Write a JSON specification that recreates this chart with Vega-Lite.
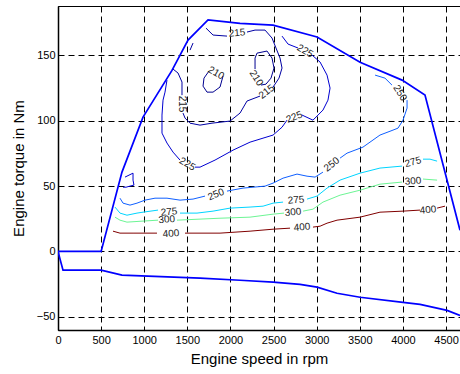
{
  "$schema": "https://vega.github.io/schema/vega-lite/v6.json",
  "autosize": {"type": "none"},
  "width": 402,
  "height": 324,
  "padding": {"left": 58, "top": 6, "right": 0, "bottom": 44},
  "background": "white",
  "config": {
    "view": {"stroke": "black", "strokeWidth": 1},
    "axis": {
      "domainColor": "black", "domainWidth": 1.5,
      "grid": true, "gridColor": "black", "gridDash": [6, 4], "gridWidth": 1, "gridOpacity": 1,
      "ticks": false,
      "labelFont": "Liberation Sans", "labelFontSize": 11, "labelColor": "black",
      "titleFont": "Liberation Sans", "titleFontSize": 15, "titleFontWeight": "normal", "titleColor": "black",
      "labelFlush": false, "labelOverlap": false
    },
    "text": {"font": "Liberation Sans", "fontSize": 10, "fill": "#222222", "baseline": "middle", "align": "center"}
  },
  "datasets": {
    "limits": [
      {"s": "max", "i": 0, "x": 0, "y": 0},
      {"s": "max", "i": 1, "x": 500, "y": 0},
      {"s": "max", "i": 2, "x": 742, "y": 60.6},
      {"s": "max", "i": 3, "x": 986, "y": 102.6},
      {"s": "max", "i": 4, "x": 1322, "y": 138.3},
      {"s": "max", "i": 5, "x": 1508, "y": 161.5},
      {"s": "max", "i": 6, "x": 1740, "y": 176.8},
      {"s": "max", "i": 7, "x": 2111, "y": 174.3},
      {"s": "max", "i": 8, "x": 2494, "y": 172.9},
      {"s": "max", "i": 9, "x": 3004, "y": 163.8},
      {"s": "max", "i": 10, "x": 3503, "y": 144.6},
      {"s": "max", "i": 11, "x": 3990, "y": 130.9},
      {"s": "max", "i": 12, "x": 4256, "y": 119.4},
      {"s": "max", "i": 13, "x": 4662, "y": 16.2},
      {"s": "min", "i": 0, "x": 0, "y": 0},
      {"s": "min", "i": 1, "x": 58, "y": -14.3},
      {"s": "min", "i": 2, "x": 500, "y": -14.3},
      {"s": "min", "i": 3, "x": 742, "y": -18.1},
      {"s": "min", "i": 4, "x": 1647, "y": -20.4},
      {"s": "min", "i": 5, "x": 2111, "y": -22},
      {"s": "min", "i": 6, "x": 2494, "y": -23.5},
      {"s": "min", "i": 7, "x": 2807, "y": -25.1},
      {"s": "min", "i": 8, "x": 3004, "y": -27.3},
      {"s": "min", "i": 9, "x": 3236, "y": -31.9},
      {"s": "min", "i": 10, "x": 3503, "y": -35},
      {"s": "min", "i": 11, "x": 4001, "y": -38.9},
      {"s": "min", "i": 12, "x": 4199, "y": -40.4},
      {"s": "min", "i": 13, "x": 4512, "y": -45},
      {"s": "min", "i": 14, "x": 4662, "y": -48.9}
    ],
    "contours": [
      {"s": "215a", "lv": "215", "i": 0, "x": 1334, "y": 139.3},
      {"s": "215a", "lv": "215", "i": 1, "x": 1392, "y": 136.3},
      {"s": "215a", "lv": "215", "i": 2, "x": 1438, "y": 129.4},
      {"s": "215a", "lv": "215", "i": 3, "x": 1438, "y": 119.4},
      {"s": "215b", "lv": "215", "i": 0, "x": 1450, "y": 105.7},
      {"s": "215b", "lv": "215", "i": 1, "x": 1473, "y": 101.9},
      {"s": "215b", "lv": "215", "i": 2, "x": 1531, "y": 98.0},
      {"s": "215b", "lv": "215", "i": 3, "x": 1647, "y": 96.5},
      {"s": "215b", "lv": "215", "i": 4, "x": 1786, "y": 98.0},
      {"s": "215b", "lv": "215", "i": 5, "x": 1995, "y": 99.6},
      {"s": "215b", "lv": "215", "i": 6, "x": 2111, "y": 105.7},
      {"s": "215b", "lv": "215", "i": 7, "x": 2192, "y": 114.9},
      {"s": "215b", "lv": "215", "i": 8, "x": 2343, "y": 118.7},
      {"s": "215c", "lv": "215", "i": 0, "x": 2494, "y": 125.6},
      {"s": "215c", "lv": "215", "i": 1, "x": 2563, "y": 132.4},
      {"s": "215c", "lv": "215", "i": 2, "x": 2598, "y": 140.1},
      {"s": "215c", "lv": "215", "i": 3, "x": 2575, "y": 147.7},
      {"s": "215c", "lv": "215", "i": 4, "x": 2528, "y": 155.4},
      {"s": "215c", "lv": "215", "i": 5, "x": 2482, "y": 163.0},
      {"s": "215c", "lv": "215", "i": 6, "x": 2401, "y": 169.1},
      {"s": "215c", "lv": "215", "i": 7, "x": 2285, "y": 169.1},
      {"s": "215c", "lv": "215", "i": 8, "x": 2192, "y": 167.6},
      {"s": "215d", "lv": "215", "i": 0, "x": 1960, "y": 164.5},
      {"s": "215d", "lv": "215", "i": 1, "x": 1798, "y": 165.3},
      {"s": "215d", "lv": "215", "i": 2, "x": 1716, "y": 170.6},
      {"s": "215e", "lv": "215", "i": 0, "x": 1531, "y": 153.8},
      {"s": "215e", "lv": "215", "i": 1, "x": 1566, "y": 159.2},
      {"s": "210a", "lv": "210", "i": 0, "x": 1914, "y": 134.0},
      {"s": "210a", "lv": "210", "i": 1, "x": 1879, "y": 125.6},
      {"s": "210a", "lv": "210", "i": 2, "x": 1798, "y": 121.7},
      {"s": "210a", "lv": "210", "i": 3, "x": 1728, "y": 121.7},
      {"s": "210a", "lv": "210", "i": 4, "x": 1682, "y": 126.3},
      {"s": "210a", "lv": "210", "i": 5, "x": 1693, "y": 132.4},
      {"s": "210a", "lv": "210", "i": 6, "x": 1751, "y": 137.8},
      {"s": "210b", "lv": "210", "i": 0, "x": 2354, "y": 127.1},
      {"s": "210b", "lv": "210", "i": 1, "x": 2412, "y": 127.8},
      {"s": "210b", "lv": "210", "i": 2, "x": 2470, "y": 132.4},
      {"s": "210b", "lv": "210", "i": 3, "x": 2505, "y": 140.1},
      {"s": "210b", "lv": "210", "i": 4, "x": 2482, "y": 147.7},
      {"s": "210b", "lv": "210", "i": 5, "x": 2424, "y": 153.1},
      {"s": "210b", "lv": "210", "i": 6, "x": 2308, "y": 151.5},
      {"s": "210b", "lv": "210", "i": 7, "x": 2285, "y": 147.7},
      {"s": "210b", "lv": "210", "i": 8, "x": 2285, "y": 139.3},
      {"s": "225a", "lv": "225", "i": 0, "x": 1264, "y": 130.9},
      {"s": "225a", "lv": "225", "i": 1, "x": 1241, "y": 121.7},
      {"s": "225a", "lv": "225", "i": 2, "x": 1218, "y": 115.6},
      {"s": "225a", "lv": "225", "i": 3, "x": 1206, "y": 104.2},
      {"s": "225a", "lv": "225", "i": 4, "x": 1206, "y": 90.4},
      {"s": "225a", "lv": "225", "i": 5, "x": 1264, "y": 82.8},
      {"s": "225a", "lv": "225", "i": 6, "x": 1334, "y": 75.9},
      {"s": "225a", "lv": "225", "i": 7, "x": 1415, "y": 69.8},
      {"s": "225b", "lv": "225", "i": 0, "x": 1589, "y": 64.4},
      {"s": "225b", "lv": "225", "i": 1, "x": 1647, "y": 64.4},
      {"s": "225b", "lv": "225", "i": 2, "x": 1821, "y": 69.8},
      {"s": "225b", "lv": "225", "i": 3, "x": 2030, "y": 77.4},
      {"s": "225b", "lv": "225", "i": 4, "x": 2227, "y": 83.5},
      {"s": "225b", "lv": "225", "i": 5, "x": 2494, "y": 88.9},
      {"s": "225b", "lv": "225", "i": 6, "x": 2598, "y": 94.9},
      {"s": "225b", "lv": "225", "i": 7, "x": 2656, "y": 100.3},
      {"s": "225c", "lv": "225", "i": 0, "x": 2830, "y": 104.2},
      {"s": "225c", "lv": "225", "i": 1, "x": 2957, "y": 100.3},
      {"s": "225c", "lv": "225", "i": 2, "x": 3073, "y": 108.0},
      {"s": "225c", "lv": "225", "i": 3, "x": 3131, "y": 115.6},
      {"s": "225c", "lv": "225", "i": 4, "x": 3155, "y": 124.8},
      {"s": "225c", "lv": "225", "i": 5, "x": 3120, "y": 134.7},
      {"s": "225c", "lv": "225", "i": 6, "x": 3039, "y": 144.7},
      {"s": "225c", "lv": "225", "i": 7, "x": 2946, "y": 150.0},
      {"s": "225d", "lv": "225", "i": 0, "x": 2784, "y": 155.4},
      {"s": "225d", "lv": "225", "i": 1, "x": 2668, "y": 158.4},
      {"s": "225d", "lv": "225", "i": 2, "x": 2598, "y": 164.5},
      {"s": "225e", "lv": "225", "i": 0, "x": 777, "y": 56.8},
      {"s": "225e", "lv": "225", "i": 1, "x": 870, "y": 59.8},
      {"s": "225e", "lv": "225", "i": 2, "x": 870, "y": 54.5},
      {"s": "225e", "lv": "225", "i": 3, "x": 881, "y": 50.7},
      {"s": "225e", "lv": "225", "i": 4, "x": 789, "y": 49.1},
      {"s": "225e", "lv": "225", "i": 5, "x": 754, "y": 49.1},
      {"s": "250a", "lv": "250", "i": 0, "x": 719, "y": 40.7},
      {"s": "250a", "lv": "250", "i": 1, "x": 754, "y": 36.9},
      {"s": "250a", "lv": "250", "i": 2, "x": 835, "y": 35.4},
      {"s": "250a", "lv": "250", "i": 3, "x": 916, "y": 36.9},
      {"s": "250a", "lv": "250", "i": 4, "x": 1009, "y": 39.2},
      {"s": "250a", "lv": "250", "i": 5, "x": 1125, "y": 40.7},
      {"s": "250a", "lv": "250", "i": 6, "x": 1264, "y": 40.7},
      {"s": "250a", "lv": "250", "i": 7, "x": 1415, "y": 39.2},
      {"s": "250a", "lv": "250", "i": 8, "x": 1566, "y": 40.0},
      {"s": "250a", "lv": "250", "i": 9, "x": 1705, "y": 42.3},
      {"s": "250b", "lv": "250", "i": 0, "x": 1960, "y": 46.1},
      {"s": "250b", "lv": "250", "i": 1, "x": 2146, "y": 48.4},
      {"s": "250b", "lv": "250", "i": 2, "x": 2401, "y": 49.9},
      {"s": "250b", "lv": "250", "i": 3, "x": 2494, "y": 52.2},
      {"s": "250b", "lv": "250", "i": 4, "x": 2610, "y": 56.0},
      {"s": "250b", "lv": "250", "i": 5, "x": 2772, "y": 59.1},
      {"s": "250b", "lv": "250", "i": 6, "x": 2888, "y": 57.5},
      {"s": "250b", "lv": "250", "i": 7, "x": 2981, "y": 56.8},
      {"s": "250b", "lv": "250", "i": 8, "x": 3073, "y": 60.6},
      {"s": "250c", "lv": "250", "i": 0, "x": 3271, "y": 71.3},
      {"s": "250c", "lv": "250", "i": 1, "x": 3352, "y": 75.1},
      {"s": "250c", "lv": "250", "i": 2, "x": 3537, "y": 79.7},
      {"s": "250c", "lv": "250", "i": 3, "x": 3734, "y": 88.9},
      {"s": "250c", "lv": "250", "i": 4, "x": 3885, "y": 92.7},
      {"s": "250c", "lv": "250", "i": 5, "x": 3943, "y": 94.2},
      {"s": "250c", "lv": "250", "i": 6, "x": 4001, "y": 100.3},
      {"s": "250c", "lv": "250", "i": 7, "x": 4048, "y": 109.5},
      {"s": "250c", "lv": "250", "i": 8, "x": 4048, "y": 115.6},
      {"s": "250d", "lv": "250", "i": 0, "x": 3873, "y": 127.1},
      {"s": "250d", "lv": "250", "i": 1, "x": 3792, "y": 132.4},
      {"s": "250d", "lv": "250", "i": 2, "x": 3677, "y": 134.7},
      {"s": "275a", "lv": "275", "i": 0, "x": 661, "y": 33.9},
      {"s": "275a", "lv": "275", "i": 1, "x": 719, "y": 29.3},
      {"s": "275a", "lv": "275", "i": 2, "x": 800, "y": 27.7},
      {"s": "275a", "lv": "275", "i": 3, "x": 916, "y": 29.3},
      {"s": "275a", "lv": "275", "i": 4, "x": 986, "y": 30.0},
      {"s": "275a", "lv": "275", "i": 5, "x": 1160, "y": 31.6},
      {"s": "275b", "lv": "275", "i": 0, "x": 1415, "y": 29.3},
      {"s": "275b", "lv": "275", "i": 1, "x": 1612, "y": 29.3},
      {"s": "275b", "lv": "275", "i": 2, "x": 1798, "y": 30.8},
      {"s": "275b", "lv": "275", "i": 3, "x": 1995, "y": 33.1},
      {"s": "275b", "lv": "275", "i": 4, "x": 2227, "y": 33.9},
      {"s": "275b", "lv": "275", "i": 5, "x": 2378, "y": 34.6},
      {"s": "275b", "lv": "275", "i": 6, "x": 2494, "y": 36.9},
      {"s": "275b", "lv": "275", "i": 7, "x": 2610, "y": 37.7},
      {"s": "275c", "lv": "275", "i": 0, "x": 2888, "y": 40.0},
      {"s": "275c", "lv": "275", "i": 1, "x": 3004, "y": 42.3},
      {"s": "275c", "lv": "275", "i": 2, "x": 3120, "y": 48.4},
      {"s": "275c", "lv": "275", "i": 3, "x": 3271, "y": 54.5},
      {"s": "275c", "lv": "275", "i": 4, "x": 3503, "y": 59.8},
      {"s": "275c", "lv": "275", "i": 5, "x": 3734, "y": 63.7},
      {"s": "275c", "lv": "275", "i": 6, "x": 3990, "y": 65.2},
      {"s": "275d", "lv": "275", "i": 0, "x": 4233, "y": 70.5},
      {"s": "275d", "lv": "275", "i": 1, "x": 4314, "y": 70.5},
      {"s": "275d", "lv": "275", "i": 2, "x": 4396, "y": 69.0},
      {"s": "300a", "lv": "300", "i": 0, "x": 661, "y": 26.2},
      {"s": "300a", "lv": "300", "i": 1, "x": 719, "y": 23.9},
      {"s": "300a", "lv": "300", "i": 2, "x": 800, "y": 22.4},
      {"s": "300a", "lv": "300", "i": 3, "x": 986, "y": 23.2},
      {"s": "300a", "lv": "300", "i": 4, "x": 1160, "y": 23.9},
      {"s": "300b", "lv": "300", "i": 0, "x": 1380, "y": 23.9},
      {"s": "300b", "lv": "300", "i": 1, "x": 1647, "y": 24.7},
      {"s": "300b", "lv": "300", "i": 2, "x": 1879, "y": 25.4},
      {"s": "300b", "lv": "300", "i": 3, "x": 2227, "y": 26.2},
      {"s": "300b", "lv": "300", "i": 4, "x": 2494, "y": 28.5},
      {"s": "300b", "lv": "300", "i": 5, "x": 2621, "y": 29.3},
      {"s": "300c", "lv": "300", "i": 0, "x": 2842, "y": 30.8},
      {"s": "300c", "lv": "300", "i": 1, "x": 2957, "y": 32.3},
      {"s": "300c", "lv": "300", "i": 2, "x": 3073, "y": 37.7},
      {"s": "300c", "lv": "300", "i": 3, "x": 3271, "y": 43.0},
      {"s": "300c", "lv": "300", "i": 4, "x": 3503, "y": 46.8},
      {"s": "300c", "lv": "300", "i": 5, "x": 3734, "y": 51.4},
      {"s": "300c", "lv": "300", "i": 6, "x": 3990, "y": 53.0},
      {"s": "300d", "lv": "300", "i": 0, "x": 4233, "y": 55.3},
      {"s": "300d", "lv": "300", "i": 1, "x": 4396, "y": 54.5},
      {"s": "400a", "lv": "400", "i": 0, "x": 638, "y": 15.5},
      {"s": "400a", "lv": "400", "i": 1, "x": 719, "y": 14.0},
      {"s": "400a", "lv": "400", "i": 2, "x": 870, "y": 14.0},
      {"s": "400a", "lv": "400", "i": 3, "x": 1148, "y": 14.0},
      {"s": "400b", "lv": "400", "i": 0, "x": 1473, "y": 14.0},
      {"s": "400b", "lv": "400", "i": 1, "x": 1879, "y": 14.0},
      {"s": "400b", "lv": "400", "i": 2, "x": 2227, "y": 15.5},
      {"s": "400b", "lv": "400", "i": 3, "x": 2494, "y": 17.0},
      {"s": "400b", "lv": "400", "i": 4, "x": 2691, "y": 17.8},
      {"s": "400c", "lv": "400", "i": 0, "x": 2957, "y": 18.6},
      {"s": "400c", "lv": "400", "i": 1, "x": 3039, "y": 19.3},
      {"s": "400c", "lv": "400", "i": 2, "x": 3120, "y": 21.6},
      {"s": "400c", "lv": "400", "i": 3, "x": 3236, "y": 23.9},
      {"s": "400c", "lv": "400", "i": 4, "x": 3503, "y": 26.2},
      {"s": "400c", "lv": "400", "i": 5, "x": 3734, "y": 30.0},
      {"s": "400c", "lv": "400", "i": 6, "x": 4001, "y": 30.8},
      {"s": "400c", "lv": "400", "i": 7, "x": 4199, "y": 31.6},
      {"s": "400d", "lv": "400", "i": 0, "x": 4396, "y": 33.1},
      {"s": "400d", "lv": "400", "i": 1, "x": 4488, "y": 34.6}
    ],
    "lab_m5": [
      {"t": "275", "x": 1287, "y": 30.2},
      {"t": "275", "x": 2760, "y": 39.2},
      {"t": "300", "x": 1262, "y": 24.3},
      {"t": "300", "x": 2726, "y": 30.0},
      {"t": "300", "x": 4117, "y": 53.7},
      {"t": "400", "x": 4291, "y": 31.6},
      {"t": "400", "x": 1310, "y": 13.6},
      {"t": "400", "x": 2830, "y": 18.4},
      {"t": "215", "x": 2076, "y": 166.8}
    ],
    "lab_m15": [
      {"t": "275", "x": 4117, "y": 68.2}
    ],
    "lab_m22": [
      {"t": "225", "x": 2740, "y": 102.6},
      {"t": "250", "x": 1833, "y": 43.5}
    ],
    "lab_m38": [
      {"t": "215", "x": 2420, "y": 122.0},
      {"t": "250", "x": 3175, "y": 66.5}
    ],
    "lab_30": [
      {"t": "210", "x": 1833, "y": 136.3},
      {"t": "225", "x": 1500, "y": 66.7},
      {"t": "225", "x": 2865, "y": 153.1}
    ],
    "lab_58": [
      {"t": "210", "x": 2300, "y": 132.4},
      {"t": "250", "x": 3966, "y": 121.0}
    ],
    "lab_90": [
      {"t": "215", "x": 1438, "y": 112.6}
    ]
  },
  "encoding": {
    "x": {"field": "x", "type": "quantitative",
      "scale": {"domain": [0, 4662], "nice": false, "zero": false},
      "axis": {"values": [0, 500, 1000, 1500, 2000, 2500, 3000, 3500, 4000, 4500], "format": "d", "title": "Engine speed in rpm", "labelPadding": 4, "titlePadding": 6}},
    "y": {"field": "y", "type": "quantitative",
      "scale": {"domain": [-60, 187.5], "nice": false, "zero": false},
      "axis": {"values": [-50, 0, 50, 100, 150], "format": "d", "title": "Engine torque in Nm", "labelPadding": 3, "titlePadding": 10}}
  },
  "layer": [
    {
      "data": {"name": "contours"},
      "mark": {"type": "line", "strokeWidth": 1, "clip": true},
      "encoding": {
        "detail": {"field": "s"},
        "order": {"field": "i", "type": "quantitative"},
        "color": {"field": "lv", "type": "nominal", "legend": null,
          "scale": {"domain": ["210", "215", "225", "250", "275", "300", "400"],
            "range": ["#00008f", "#0000a3", "#0000d1", "#0f5fff", "#00d5ff", "#6cf594", "#800000"]}}
      }
    },
    {
      "data": {"name": "limits"},
      "mark": {"type": "line", "strokeWidth": 1.7, "color": "#0000ff", "clip": true},
      "encoding": {
        "detail": {"field": "s"},
        "order": {"field": "i", "type": "quantitative"}
      }
    },
    {"data": {"name": "lab_m5"}, "mark": {"type": "text", "angle": -5, "fill": "#222222"}, "encoding": {"text": {"field": "t"}}},
    {"data": {"name": "lab_m15"}, "mark": {"type": "text", "angle": -15, "fill": "#222222"}, "encoding": {"text": {"field": "t"}}},
    {"data": {"name": "lab_m22"}, "mark": {"type": "text", "angle": -22, "fill": "#222222"}, "encoding": {"text": {"field": "t"}}},
    {"data": {"name": "lab_m38"}, "mark": {"type": "text", "angle": -38, "fill": "#222222"}, "encoding": {"text": {"field": "t"}}},
    {"data": {"name": "lab_30"}, "mark": {"type": "text", "angle": 30, "fill": "#222222"}, "encoding": {"text": {"field": "t"}}},
    {"data": {"name": "lab_58"}, "mark": {"type": "text", "angle": 58, "fill": "#222222"}, "encoding": {"text": {"field": "t"}}},
    {"data": {"name": "lab_90"}, "mark": {"type": "text", "angle": 90, "fill": "#222222"}, "encoding": {"text": {"field": "t"}}}
  ]
}
